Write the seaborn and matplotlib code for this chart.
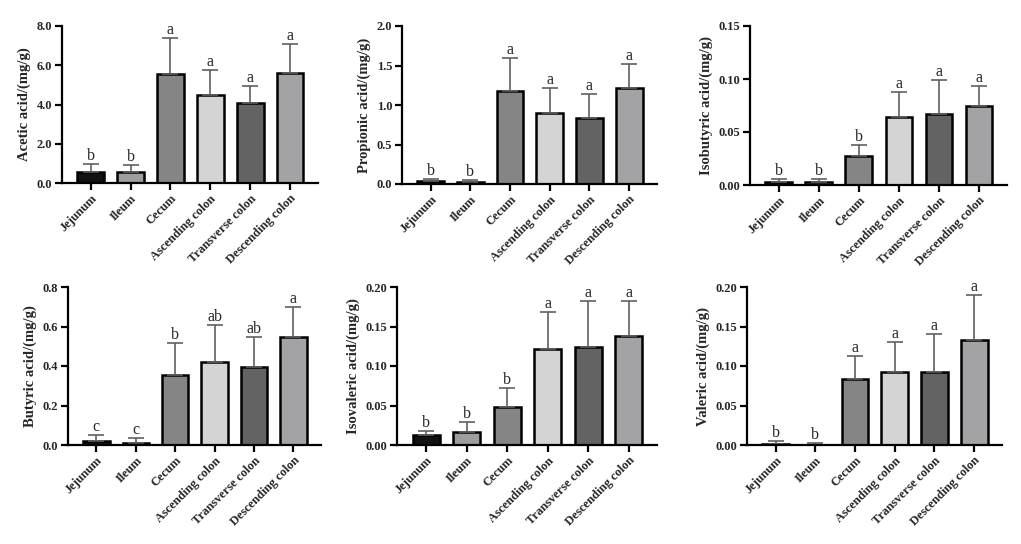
import seaborn as sns
import pandas as pd
import matplotlib.pyplot as plt

# sample sites and fill colours (GraphPad-style greys)
sites = ["Jejunum", "Ileum", "Cecum", "Ascending colon", "Transverse colon", "Descending colon"]
site_colors = ["#111111", "#9e9e9e", "#858585", "#d4d4d4", "#636363", "#a3a3a6"]

# means and upper error (SD)
acetic_mean = [0.54, 0.55, 5.55, 4.50, 4.07, 5.58]
acetic_sd = [0.43, 0.38, 1.83, 1.25, 0.85, 1.50]
acetic_sig = ["b", "b", "a", "a", "a", "a"]

propionic_mean = [0.035, 0.03, 1.18, 0.905, 0.84, 1.21]
propionic_sd = [0.025, 0.025, 0.41, 0.315, 0.305, 0.31]
propionic_sig = ["b", "b", "a", "a", "a", "a"]

isobutyric_mean = [0.0025, 0.0025, 0.027, 0.064, 0.067, 0.0745]
isobutyric_sd = [0.0035, 0.0035, 0.011, 0.024, 0.032, 0.0192]
isobutyric_sig = ["b", "b", "b", "a", "a", "a"]

butyric_mean = [0.02, 0.012, 0.354, 0.422, 0.397, 0.545]
butyric_sd = [0.029, 0.023, 0.164, 0.186, 0.151, 0.155]
butyric_sig = ["c", "c", "b", "ab", "ab", "a"]

isovaleric_mean = [0.013, 0.017, 0.048, 0.1215, 0.124, 0.138]
isovaleric_sd = [0.005, 0.012, 0.0246, 0.0465, 0.058, 0.044]
isovaleric_sig = ["b", "b", "b", "a", "a", "a"]

valeric_mean = [0.001, 0.0005, 0.083, 0.093, 0.093, 0.133]
valeric_sd = [0.0045, 0.0015, 0.030, 0.038, 0.047, 0.057]
valeric_sig = ["b", "b", "a", "a", "a", "a"]

panels = [
    ("Acetic acid/(mg/g)", acetic_mean, acetic_sd, acetic_sig, [0, 2, 4, 6, 8], "{:.1f}"),
    ("Propionic acid/(mg/g)", propionic_mean, propionic_sd, propionic_sig, [0, 0.5, 1.0, 1.5, 2.0], "{:.1f}"),
    ("Isobutyric acid/(mg/g)", isobutyric_mean, isobutyric_sd, isobutyric_sig, [0, 0.05, 0.10, 0.15], "{:.2f}"),
    ("Butyric acid/(mg/g)", butyric_mean, butyric_sd, butyric_sig, [0, 0.2, 0.4, 0.6, 0.8], "{:.1f}"),
    ("Isovaleric acid/(mg/g)", isovaleric_mean, isovaleric_sd, isovaleric_sig, [0, 0.05, 0.10, 0.15, 0.20], "{:.2f}"),
    ("Valeric acid/(mg/g)", valeric_mean, valeric_sd, valeric_sig, [0, 0.05, 0.10, 0.15, 0.20], "{:.2f}"),
]

# axes rectangles in pixels: left, top, right, bottom
W, H = 1021, 544
rects = [
    (62, 26, 318, 183), (402, 26, 657, 184), (750, 26, 1007, 185),
    (68, 287, 321, 445), (397, 287, 657, 445), (747, 287, 1002, 445),
]

sns.set_theme(style="ticks")
plt.rcParams['font.family'] = ['Liberation Serif', 'DejaVu Serif']

fig = plt.figure(figsize=(W / 100, H / 100), dpi=100)

for (ylabel, mean, sd, sig, yticks, fmt), (l, t, r, b) in zip(panels, rects):
    ax = fig.add_axes([l / W, 1 - b / H, (r - l) / W, (b - t) / H])
    df = pd.DataFrame({"site": sites, "value": mean})
    sns.barplot(data=df, x="site", y="value", hue="site", order=sites, hue_order=sites,
                palette=site_colors, legend=False, errorbar=None, width=0.67,
                edgecolor="black", linewidth=1.8, ax=ax)
    ax.errorbar(range(len(sites)), mean, yerr=[[0] * len(sd), sd], fmt="none",
                ecolor="#606060", elinewidth=1.2, capsize=6, capthick=1.2, zorder=1)
    for i, (m, s, lab) in enumerate(zip(mean, sd, sig)):
        ax.text(i, m + s, lab, ha="center", va="bottom", fontsize=11.5)
    ax.set_xlim(-0.72, 5.7)
    ax.set_ylim(0, yticks[-1])
    ax.set_yticks(yticks)
    ax.set_yticklabels([fmt.format(v) for v in yticks], fontweight="bold", fontsize=9)
    ax.set_xticks(range(len(sites)))
    ax.set_xticklabels(sites, rotation=45, ha="right", rotation_mode="anchor",
                       fontweight="bold", fontsize=9)
    ax.set_xlabel("")
    ax.set_ylabel(ylabel, fontweight="bold", fontsize=10.5, labelpad=4)
    sns.despine(ax=ax)
    for side in ["left", "bottom"]:
        ax.spines[side].set_linewidth(1.6)
        ax.spines[side].set_color("black")
    ax.tick_params(axis="both", direction="out", length=5, width=1.6, color="black", pad=2)

plt.savefig("out.png", dpi=100)
